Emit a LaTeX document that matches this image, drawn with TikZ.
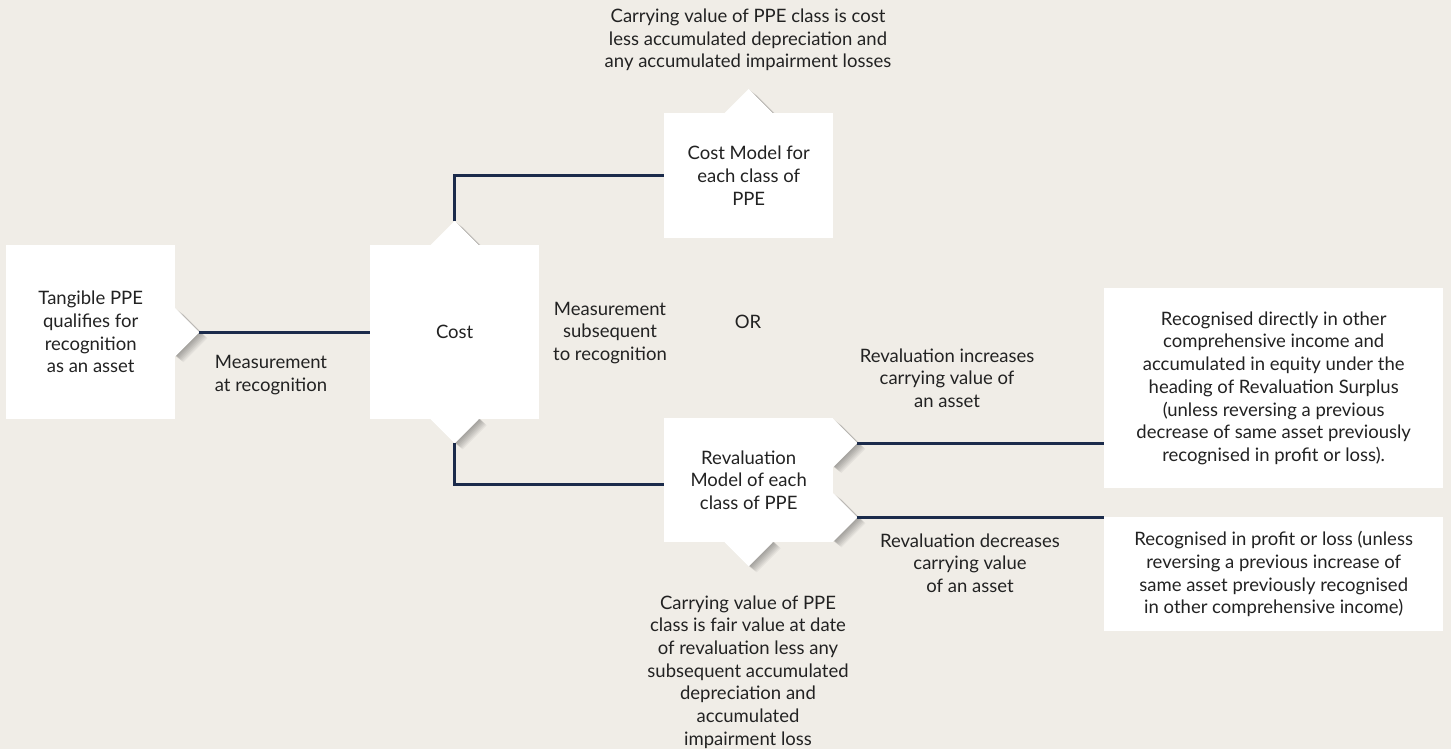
\documentclass[tikz,border=0pt]{standalone}
\usepackage{fontspec}
\setmainfont{Lato}
\usetikzlibrary{calc}
\definecolor{paper}{HTML}{F0EDE7}
\definecolor{navy}{HTML}{1B2B4B}
\definecolor{ink}{HTML}{222222}
\pgfdeclarelayer{paperlayer}
\pgfdeclarelayer{notchlayer}
\pgfsetlayers{paperlayer,notchlayer,main}
\def\diamondpath(#1)(#2){($(#1)+(#2)+(-24,0)$) -- ($(#1)+(#2)+(0,-24)$) -- ($(#1)+(#2)+(24,0)$) -- ($(#1)+(#2)+(0,24)$) -- cycle}
\def\notch(#1){%
  \foreach \k in {1,...,8}{\fill[black, opacity=0.045] \diamondpath(#1)(1.0*\k,0.75*\k);}
  \fill[white] \diamondpath(#1)(0,0);}

\begin{document}
\begin{tikzpicture}[x=1pt,y=-1pt,
  every node/.style={font=\fontsize{18.5}{22.7}\selectfont, text=ink},
  box/.style={fill=white, align=center, inner sep=0pt, anchor=north west},
  link/.style={draw=navy, line width=3pt},
  lbl/.style={align=center}]
			%%%%% BOXES %%%%%
			\node[box, minimum width=169, minimum height=174] (tangible) at (6, 245) {Tangible PPE\\qualifies for\\recognition\\as an asset};
			\node[box, minimum width=169, minimum height=174] (cost) at (370, 245) {Cost};
			\node[box, minimum width=169, minimum height=125] (costmodel) at (664, 113) {Cost Model for\\each class of\\PPE};
			\node[box, minimum width=169, minimum height=124] (reval) at (664, 418) {Revaluation\\Model of each\\class of PPE};
			\node[box, minimum width=339, minimum height=200] (oci) at (1104, 288) {Recognised directly in other\\comprehensive income and\\accumulated in equity under the\\heading of Revaluation Surplus\\(unless reversing a previous\\decrease of same asset previously\\recognised in profit or loss).};
			\node[box, minimum width=339, minimum height=114] (pl) at (1104, 517) {Recognised in profit or loss (unless\\reversing a previous increase of\\same asset previously recognised\\in other comprehensive income)};
			
			%%%%% NOTCHES %%%%%
			\coordinate (revup) at ($(reval.north east)+(0,25)$);
			\coordinate (revdown) at ($(reval.south east)+(0,-25)$);
			\begin{pgfonlayer}{paperlayer}
				\fill[paper] (0, 0) rectangle (1451, 749);
			\end{pgfonlayer}
			\begin{pgfonlayer}{notchlayer}
				\notch(tangible.east)
				\notch(cost.north)
				\notch(cost.south)
				\notch(costmodel.north)
				\notch(reval.south)
				\notch(revup)
				\notch(revdown)
			\end{pgfonlayer}
			
			%%%%% LINKS %%%%%
			\coordinate (tangibletip) at ($(tangible.east)+(24,0)$);
			\coordinate (costtop) at ($(cost.north)+(0,-24)$);
			\coordinate (costbottom) at ($(cost.south)+(0,24)$);
			\coordinate (revuptip) at ($(revup)+(24,0)$);
			\coordinate (revdowntip) at ($(revdown)+(24,0)$);
			\draw[link] (tangibletip) -- (tangibletip -| cost.west);
			\draw[link] (costtop) |- (costmodel.west);
			\draw[link] (costbottom) |- ($(reval.west)+(0,4)$);
			\draw[link] (revuptip) -- (revuptip -| oci.west);
			\draw[link] (revdowntip) -- (revdowntip -| pl.west);
			
			%%%%% LABELS %%%%%
			\node[lbl] (costnote) at (748, 40) {Carrying value of PPE class is cost\\less accumulated depreciation and\\any accumulated impairment losses};
			\node[lbl] (atrecog) at (271, 375) {Measurement\\at recognition};
			\node[lbl] (afterrecog) at (610, 333) {Measurement\\subsequent\\to recognition};
			\node[lbl] (or) at (748, 322) {OR};
			\node[lbl] (incr) at (947, 378) {Revaluation increases\\carrying value of\\an asset};
			\node[lbl] (decr) at (970, 563) {Revaluation decreases\\carrying value\\of an asset};
			\node[lbl] (revalnote) at (748, 672) {Carrying value of PPE\\class is fair value at date\\of revaluation less any\\subsequent accumulated\\depreciation and\\accumulated\\impairment loss};
\end{tikzpicture}
\end{document}
